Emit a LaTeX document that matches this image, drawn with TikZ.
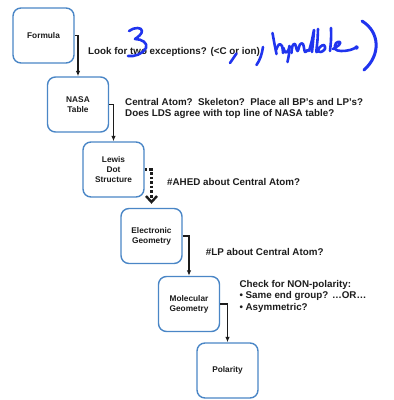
\documentclass[tikz,border=0pt]{standalone}
\usepackage{fontspec}
\setmainfont{Liberation Sans}
\usetikzlibrary{arrows.meta}
\definecolor{boxblue}{RGB}{74,134,198}
\definecolor{ink}{RGB}{32,52,238}
\definecolor{txt}{RGB}{28,28,28}
\tikzset{
  stepbox/.style={draw=boxblue, line width=1.4pt, rounded corners=8pt, fill=white,
    minimum width=61pt, minimum height=55pt, inner sep=0pt, align=center,
    text=txt, font=\bfseries\fontsize{8.3}{10}\selectfont},
  note/.style={anchor=base west, inner sep=0pt, align=left, text=txt,
    font=\bfseries\fontsize{9.8}{11.5}\selectfont},
  flow/.style={line width=1.2pt, draw=txt, -{Latex[length=5.5pt,width=4.5pt]}},
  dotflow/.style={line width=2.6pt, draw=txt, dotted,
    -{Straight Barb[length=6pt,width=11pt,line width=2.4pt]}, shorten >=4pt},
  pen/.style={draw=ink, line width=2.6pt, line cap=round, line join=round}
}
\begin{document}
\begin{tikzpicture}[x=1pt,y=-1pt]
\useasboundingbox (0,0) rectangle (394,400);

% the six steps
\node[stepbox] (formula) at (43.5,35.5) {Formula};
\node[stepbox] (nasa) at (78,104.5) {NASA\\Table};
\node[stepbox] (lewis) at (113.5,169.5) {Lewis\\Dot\\Structure};
\node[stepbox] (elec) at (151.5,236) {Electronic\\Geometry};
\node[stepbox] (mol) at (189,304) {Molecular\\Geometry};
\node[stepbox] (pol) at (227.5,370.5) {Polarity};

% connectors
\draw[flow] (formula.east) -- (formula.east -| nasa.north) -- (nasa.north);
\draw[flow] (nasa.east) -- (nasa.east -| lewis.north) -- (lewis.north);
\draw[dotflow] (lewis.east) -- (lewis.east -| elec.north) -- (elec.north);
\draw[flow] (elec.east) -- (elec.east -| mol.north) -- (mol.north);
\draw[flow] (mol.east) -- (mol.east -| pol.north) -- (pol.north);

% questions beside each step
\node[note] (q1) at (88,54) {Look for two exceptions? (<C or ion)};
\node[note] (q2) at (125,116.7) {Central Atom?\ \ Skeleton?\ \ Place all BP’s and LP’s?\\Does LDS agree with top line of NASA table?};
\node[note] (q3) at (167,185) {\#AHED about Central Atom?};
\node[note] (q4) at (205.7,255) {\#LP about Central Atom?};
\node[note] (q5) at (239.3,310) {Check for NON-polarity:\\• Same end group? …OR…\\• Asymmetric?};

% handwritten correction in blue ink
\draw[pen] (129,31) .. controls (134,27) and (142,27) .. (142,31)
  .. controls (142,34) and (138,37) .. (135,39)
  .. controls (142,39) and (148,43) .. (146,48)
  .. controls (143,54) and (134,57) .. (128,56);
\draw[pen] (236.5,53.5) -- (230,63);
\draw[pen] (263,47) .. controls (262,54) and (260,60) .. (256.5,65);
\draw[pen] plot[smooth, tension=0.6] coordinates {(272.5,33) (274.5,44) (276.5,54)};
\draw[pen] plot[smooth, tension=0.6] coordinates {(276,50) (279,44.5) (282,46) (283,53)};
\draw[pen] plot[smooth, tension=0.6] coordinates {(283.5,48) (285.5,52.5) (288.5,50) (289.5,46) (289,54) (287.5,62)};
\draw[pen] plot[smooth, tension=0.6] coordinates {(291.5,53) (292.5,46) (295,44) (297.5,51) (300,44.5) (303,44) (305,52) (307.5,50)};
\draw[pen] plot[smooth, tension=0.6] coordinates {(309,51) (312,40) (314,30) (313,42) (312,52)};
\draw[pen] plot[smooth, tension=0.6] coordinates {(318,29) (317.5,40) (316.5,52) (320,47) (324,45) (325,49) (321,52) (318,51)};
\draw[pen] plot[smooth, tension=0.6] coordinates {(331,28) (331,40) (330,51)};
\draw[pen] plot[smooth, tension=0.6] coordinates {(333,49) (339,45) (340,42) (336,43) (335,49) (341,51) (350,50) (357,47)};
\fill[ink] (356.5,47.5) circle (2.2pt);
\draw[pen, line width=3pt] (362,21) .. controls (380,32) and (381,55) .. (364,70);
\end{tikzpicture}
\end{document}
